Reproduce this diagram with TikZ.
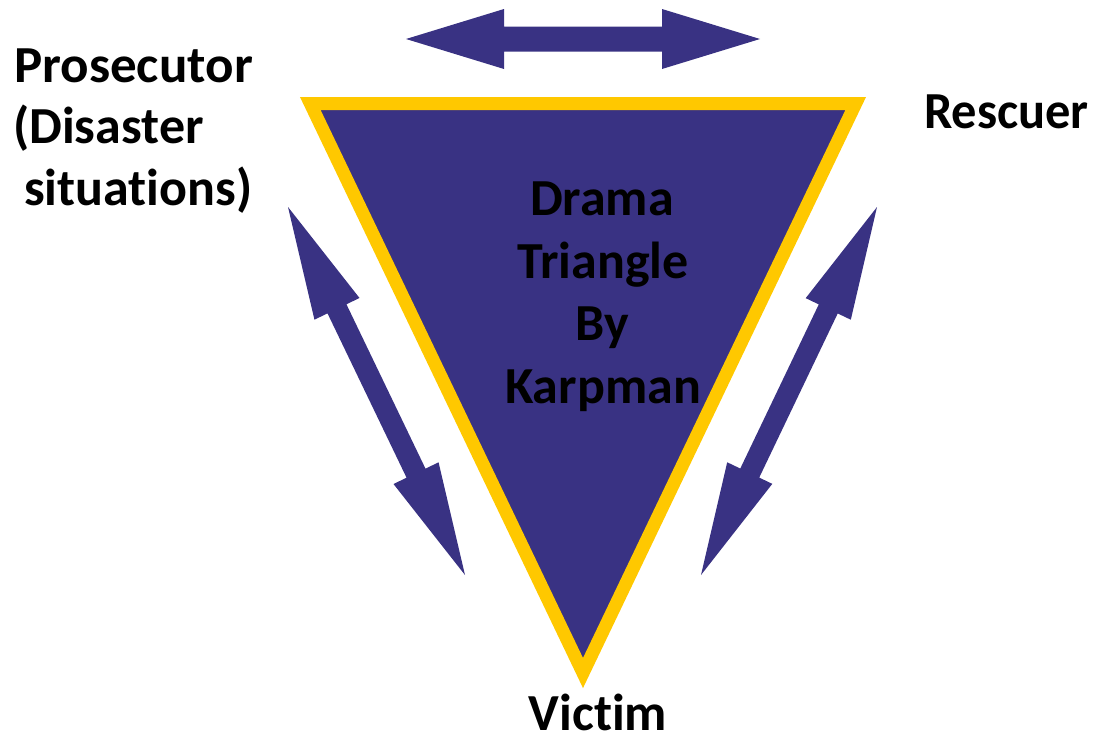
\documentclass[tikz,border=0pt]{standalone}
\usepackage{fontspec}
\setmainfont{Carlito}[Ligatures=NoCommon]
\usetikzlibrary{calc}
\definecolor{navy}{RGB}{57,50,131}
\definecolor{gold}{RGB}{255,200,0}
\tikzset{
  lbl/.style={font=\fontsize{52}{62}\selectfont\bfseries, text=black, inner sep=0pt, anchor=base},
  tri/.style={fill=navy, draw=gold, line width=13pt, line join=miter},
  dbl/.style={fill=navy, draw=none}
}
% #1 tip A, #2 tip B, #3 head length, #4 head half width, #5 shaft half width
\newcommand{\twoheadarrow}[5]{%
  \fill[dbl] (#1)
    -- ($($(#1)!#3!(#2)$)!#4!90:(#2)$)
    -- ($($(#1)!#3!(#2)$)!#5!90:(#2)$)
    -- ($($(#2)!#3!(#1)$)!#5!-90:(#1)$)
    -- ($($(#2)!#3!(#1)$)!#4!-90:(#1)$)
    -- (#2)
    -- ($($(#2)!#3!(#1)$)!#4!90:(#1)$)
    -- ($($(#2)!#3!(#1)$)!#5!90:(#1)$)
    -- ($($(#1)!#3!(#2)$)!#5!-90:(#2)$)
    -- ($($(#1)!#3!(#2)$)!#4!-90:(#2)$)
    -- cycle;}
\begin{document}
\begin{tikzpicture}[x=1pt,y=-1pt]
\useasboundingbox (0,0) rectangle (1093,736);
% triangle
\coordinate (TL) at (310.3,103.5);
\coordinate (TR) at (855.7,103.5);
\coordinate (BT) at (583,673);
\draw[tri] (TL) -- (TR) -- (BT) -- cycle;
% arrows
\coordinate (a1) at (406,39);
\coordinate (a2) at (760,39);
\twoheadarrow{a1}{a2}{98pt}{30pt}{12.5pt}
\coordinate (l1) at (288,207);
\coordinate (l2) at (465,575);
\twoheadarrow{l1}{l2}{113pt}{25pt}{10.5pt}
\coordinate (r1) at (877,207);
\coordinate (r2) at (701,575);
\twoheadarrow{r1}{r2}{113pt}{25pt}{10.5pt}
% labels
\node[lbl, anchor=base west, xscale=1.02] (pros) at (14,82) {Prosecutor};
\node[lbl, anchor=base west] (dis) at (13,143) {(Disaster};
\node[lbl, anchor=base west] (sit) at (24,205) {situations)};
\node[lbl, anchor=base west, xscale=0.97] (res) at (924,128) {Rescuer};
\node[lbl] (d1) at (602,215) {Drama};
\node[lbl] (d2) at (603,278) {Triangle};
\node[lbl] (d3) at (602,340) {By};
\node[lbl] (d4) at (603,403) {Karpman};
\node[lbl] (vic) at (598,730) {Victim};
\end{tikzpicture}
\end{document}
